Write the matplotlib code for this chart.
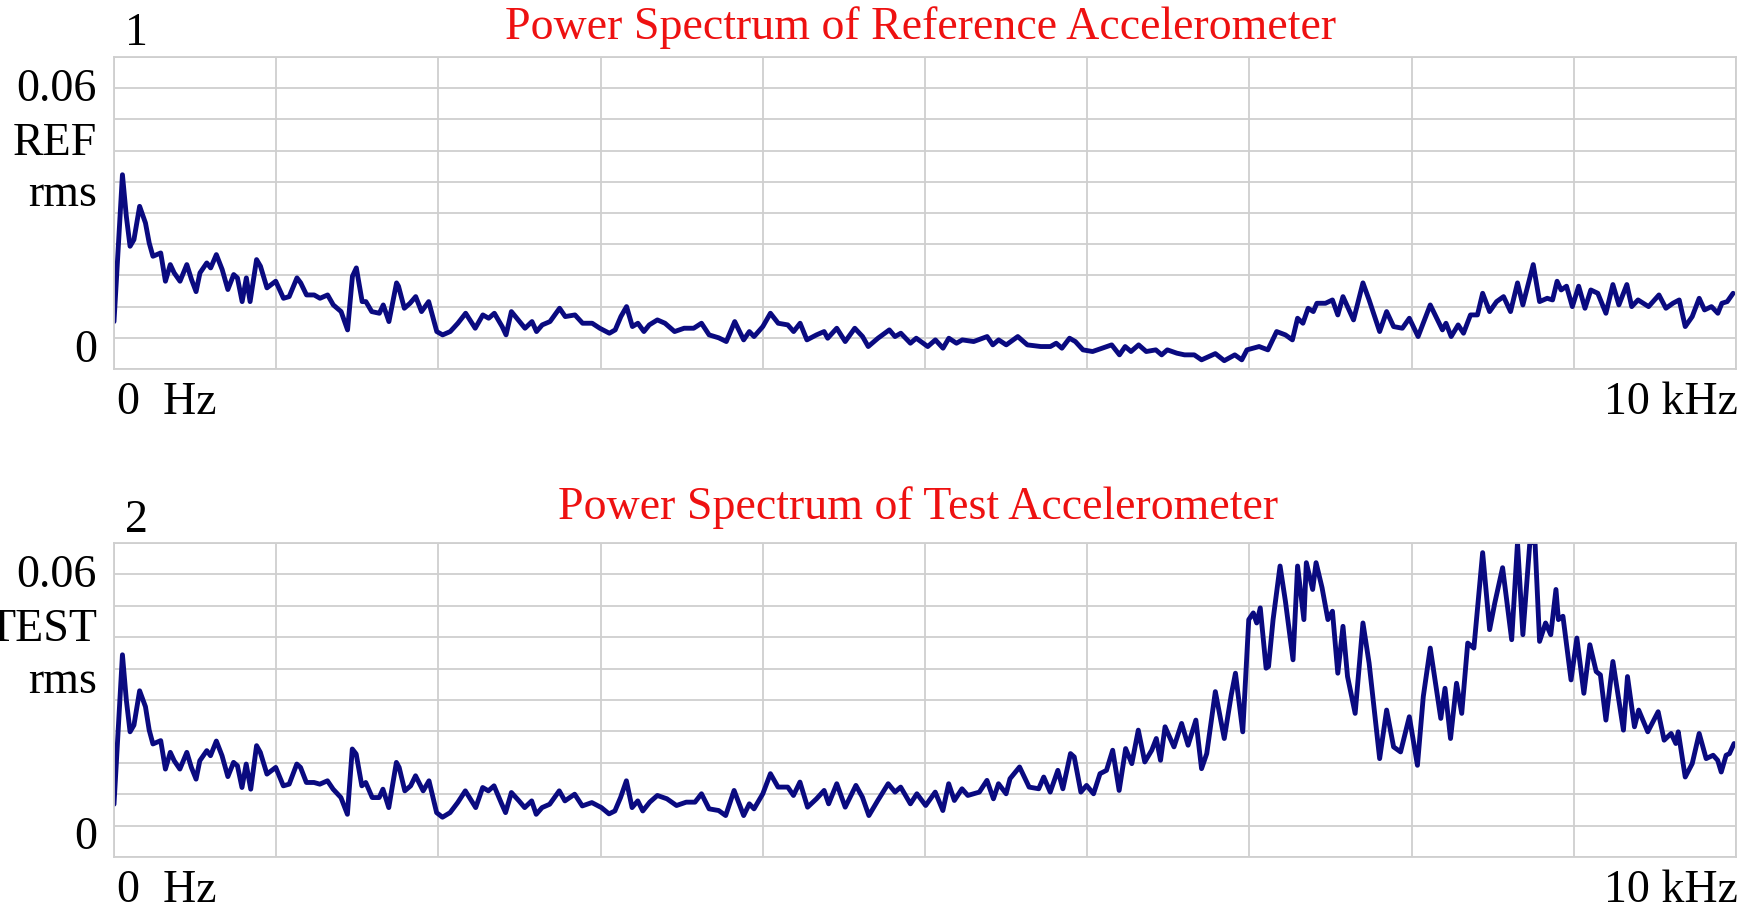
import numpy as np
import matplotlib
matplotlib.use("Agg")
import matplotlib.pyplot as plt
from matplotlib.transforms import blended_transform_factory

# frequency (kHz) and rms level
ref_khz = [
    0, 0.052, 0.076, 0.099, 0.123, 0.158, 0.194, 0.217, 0.24, 0.288,
    0.317, 0.347, 0.371, 0.407, 0.449, 0.478, 0.506, 0.53, 0.572, 0.596,
    0.631, 0.667, 0.702, 0.738, 0.761, 0.79, 0.816, 0.839, 0.879, 0.903,
    0.943, 0.997, 1.045, 1.08, 1.128, 1.151, 1.187, 1.234, 1.27, 1.317,
    1.352, 1.4, 1.44, 1.47, 1.494, 1.53, 1.553, 1.589, 1.636, 1.66,
    1.695, 1.742, 1.754, 1.79, 1.825, 1.86, 1.896, 1.94, 1.99, 2.026,
    2.073, 2.12, 2.168, 2.227, 2.274, 2.31, 2.345, 2.393, 2.417, 2.45,
    2.5, 2.534, 2.577, 2.605, 2.64, 2.688, 2.747, 2.782, 2.842, 2.889,
    2.948, 2.995, 3.054, 3.09, 3.125, 3.16, 3.196, 3.23, 3.267,
    3.30, 3.35, 3.397, 3.456, 3.515, 3.574, 3.622, 3.669, 3.728, 3.775,
    3.827, 3.882, 3.917, 3.946, 4.0, 4.047, 4.095, 4.154, 4.19, 4.23,
    4.272, 4.331, 4.378, 4.4, 4.456, 4.508, 4.567, 4.615, 4.65, 4.71,
    4.78, 4.815, 4.851, 4.91, 4.946, 5.017, 5.064, 5.111, 5.147, 5.194,
    5.23, 5.3, 5.383, 5.418, 5.454, 5.501, 5.572, 5.631, 5.714, 5.773,
    5.809, 5.844, 5.891, 5.927, 5.974, 6.033, 6.092, 6.151, 6.199, 6.234,
    6.27, 6.317, 6.364, 6.423, 6.459, 6.494, 6.553, 6.6, 6.66,
    6.705, 6.79, 6.845, 6.91, 6.953, 6.985, 7.06, 7.114, 7.168, 7.222,
    7.265, 7.297, 7.33, 7.362, 7.394, 7.416, 7.469, 7.512, 7.545, 7.577,
    7.642, 7.7, 7.738, 7.803, 7.846, 7.889, 7.943, 7.986, 8.04, 8.115,
    8.19, 8.212, 8.244, 8.287, 8.32, 8.363, 8.406, 8.438, 8.481, 8.524,
    8.567, 8.61, 8.653, 8.686, 8.75, 8.789, 8.836, 8.869, 8.897, 8.922,
    8.955, 8.991, 9.03, 9.069, 9.105, 9.148, 9.198, 9.241, 9.278, 9.327,
    9.357, 9.396, 9.461, 9.525, 9.568, 9.611, 9.65, 9.687, 9.73, 9.773,
    9.806, 9.849, 9.888, 9.913, 9.946, 9.982,
]
ref_rms = [
    0.0039, 0.0392, 0.0292, 0.0220, 0.0236, 0.0316, 0.0276, 0.0228, 0.0196, 0.0204,
    0.0136, 0.0176, 0.0156, 0.0136, 0.0176, 0.0140, 0.0111, 0.0156, 0.0180, 0.0168,
    0.0200, 0.0164, 0.0116, 0.0152, 0.0144, 0.0087, 0.0144, 0.0087, 0.0188, 0.0172,
    0.0120, 0.0136, 0.0095, 0.0099, 0.0144, 0.0132, 0.0103, 0.0103, 0.0095, 0.0103,
    0.0079, 0.0063, 0.0019, 0.0148, 0.0168, 0.0087, 0.0087, 0.0063, 0.0059, 0.0079,
    0.0039, 0.0132, 0.0124, 0.0071, 0.0083, 0.0099, 0.0063, 0.0087, 0.0015, 0.0007,
    0.0015, 0.0035, 0.0059, 0.0023, 0.0055, 0.0047, 0.0059, 0.0027, 0.0007, 0.0063,
    0.0039, 0.0023, 0.0039, 0.0015, 0.0031, 0.0039, 0.0071, 0.0051, 0.0055, 0.0035,
    0.0035, 0.0023, 0.0011, 0.0019, 0.0051, 0.0075, 0.0027, 0.0035, 0.0015,
    0.0031, 0.0043, 0.0035, 0.0015, 0.0023, 0.0023, 0.0035, 0.0007, 0.0000, -0.0009,
    0.0039, -0.0005, 0.0015, 0.0003, 0.0027, 0.0059, 0.0035, 0.0031, 0.0015, 0.0035,
    -0.0005, 0.0007, 0.0015, -0.0001, 0.0023, -0.0009, 0.0023, 0.0003, -0.0021, -0.0001,
    0.0019, 0.0003, 0.0011, -0.0013, -0.0001, -0.0021, -0.0005, -0.0025, -0.0001, -0.0013,
    -0.0005, -0.0009, 0.0003, -0.0017, -0.0005, -0.0017, 0.0003, -0.0017, -0.0021, -0.0021,
    -0.0013, -0.0025, -0.0001, -0.0009, -0.0029, -0.0033, -0.0025, -0.0017, -0.0041, -0.0021,
    -0.0033, -0.0017, -0.0033, -0.0029, -0.0041, -0.0029, -0.0037, -0.0041, -0.0041,
    -0.0053, -0.0038, -0.0055, -0.0041, -0.0053, -0.0029, -0.0021, -0.0029, 0.0015, 0.0007,
    -0.0005, 0.0047, 0.0035, 0.0071, 0.0063, 0.0083, 0.0083, 0.0091, 0.0055, 0.0099,
    0.0043, 0.0132, 0.0091, 0.0015, 0.0063, 0.0027, 0.0023, 0.0047, 0.0003, 0.0079,
    0.0019, 0.0035, 0.0003, 0.0031, 0.0011, 0.0055, 0.0055, 0.0107, 0.0063, 0.0087,
    0.0099, 0.0063, 0.0132, 0.0079, 0.0176, 0.0087, 0.0095, 0.0091, 0.0136, 0.0115,
    0.0124, 0.0075, 0.0124, 0.0071, 0.0115, 0.0107, 0.0059, 0.0128, 0.0079, 0.0128,
    0.0075, 0.0091, 0.0075, 0.0103, 0.0071, 0.0083, 0.0091, 0.0027, 0.0051, 0.0095,
    0.0067, 0.0075, 0.0059, 0.0083, 0.0087, 0.0107,
]

test_khz = [
    0, 0.052, 0.076, 0.099, 0.123, 0.158, 0.194, 0.217, 0.24, 0.288,
    0.317, 0.347, 0.371, 0.406, 0.449, 0.477, 0.506, 0.529, 0.572, 0.595,
    0.631, 0.666, 0.702, 0.737, 0.761, 0.789, 0.815, 0.843, 0.879, 0.902,
    0.943, 0.997, 1.044, 1.08, 1.127, 1.15, 1.186, 1.233, 1.269, 1.316,
    1.351, 1.399, 1.439, 1.469, 1.493, 1.528, 1.552, 1.592, 1.635, 1.658,
    1.694, 1.741, 1.758, 1.793, 1.829, 1.859, 1.906, 1.942, 1.989, 2.025,
    2.072, 2.119, 2.166, 2.23, 2.273, 2.308, 2.343, 2.391, 2.414, 2.45,
    2.497, 2.532, 2.575, 2.603, 2.639, 2.686, 2.745, 2.78, 2.84, 2.887,
    2.946, 3.005, 3.052, 3.088, 3.123, 3.159, 3.194, 3.229, 3.26,
    3.303, 3.35, 3.409, 3.468, 3.528, 3.582, 3.622, 3.669, 3.728, 3.771,
    3.823, 3.882, 3.917, 3.946, 4.0, 4.047, 4.094, 4.154, 4.189, 4.229,
    4.276, 4.331, 4.378, 4.406, 4.456, 4.508, 4.574, 4.614, 4.654, 4.709,
    4.773, 4.815, 4.85, 4.91, 4.95, 5.004, 5.063, 5.11, 5.146, 5.181,
    5.228, 5.264, 5.335, 5.382, 5.422, 5.453, 5.5, 5.524, 5.583, 5.642,
    5.701, 5.732, 5.772, 5.819, 5.85, 5.897, 5.92, 5.961, 5.996, 6.039,
    6.079, 6.119, 6.157, 6.197, 6.237, 6.275, 6.315, 6.355, 6.398, 6.426,
    6.452, 6.48, 6.535, 6.582, 6.622, 6.67,
    6.705, 6.737, 6.79, 6.845, 6.888, 6.914, 6.959, 6.996, 7.024, 7.045,
    7.067, 7.103, 7.118, 7.146, 7.189, 7.222, 7.269, 7.297, 7.336, 7.351,
    7.39, 7.411, 7.448, 7.484, 7.512, 7.545, 7.577, 7.605, 7.652, 7.7,
    7.738, 7.803, 7.846, 7.889, 7.932, 7.986, 8.036, 8.072, 8.115, 8.18,
    8.206, 8.24, 8.277, 8.309, 8.346, 8.384, 8.438, 8.481, 8.513, 8.561,
    8.617, 8.653, 8.686, 8.729, 8.761, 8.789, 8.826, 8.858, 8.89, 8.905,
    8.933, 8.983, 9.019, 9.062, 9.099, 9.138, 9.164, 9.198, 9.241, 9.306,
    9.331, 9.374, 9.4, 9.456, 9.52, 9.557, 9.6, 9.629, 9.644, 9.687,
    9.73, 9.773, 9.816, 9.859, 9.887, 9.909, 9.939, 9.96, 9.988,
]
test_rms = [
    0.0051, 0.0408, 0.0300, 0.0224, 0.0240, 0.0322, 0.0284, 0.0228, 0.0195, 0.0203,
    0.0135, 0.0175, 0.0155, 0.0135, 0.0175, 0.0139, 0.0111, 0.0155, 0.0179, 0.0167,
    0.0202, 0.0167, 0.0117, 0.0151, 0.0143, 0.0091, 0.0147, 0.0087, 0.0191, 0.0175,
    0.0123, 0.0139, 0.0095, 0.0099, 0.0147, 0.0139, 0.0103, 0.0103, 0.0099, 0.0107,
    0.0087, 0.0067, 0.0027, 0.0183, 0.0171, 0.0095, 0.0103, 0.0067, 0.0067, 0.0087,
    0.0043, 0.0151, 0.0139, 0.0083, 0.0095, 0.0119, 0.0083, 0.0107, 0.0031, 0.0020,
    0.0031, 0.0055, 0.0083, 0.0043, 0.0091, 0.0083, 0.0095, 0.0051, 0.0031, 0.0079,
    0.0059, 0.0043, 0.0059, 0.0027, 0.0043, 0.0051, 0.0083, 0.0059, 0.0075, 0.0047,
    0.0055, 0.0043, 0.0028, 0.0035, 0.0067, 0.0107, 0.0043, 0.0059, 0.0035,
    0.0056, 0.0072, 0.0064, 0.0048, 0.0056, 0.0056, 0.0076, 0.0040, 0.0036, 0.0024,
    0.0084, 0.0024, 0.0052, 0.0040, 0.0076, 0.0124, 0.0092, 0.0092, 0.0072, 0.0104,
    0.0044, 0.0064, 0.0084, 0.0052, 0.0100, 0.0044, 0.0096, 0.0068, 0.0024, 0.0060,
    0.0100, 0.0080, 0.0092, 0.0052, 0.0076, 0.0048, 0.0080, 0.0036, 0.0100, 0.0060,
    0.0088, 0.0072, 0.0080, 0.0108, 0.0064, 0.0100, 0.0076, 0.0112, 0.0140, 0.0092,
    0.0088, 0.0116, 0.0080, 0.0132, 0.0088, 0.0172, 0.0164, 0.0080, 0.0096, 0.0076,
    0.0124, 0.0132, 0.0180, 0.0084, 0.0184, 0.0148, 0.0228, 0.0152, 0.0180, 0.0208,
    0.0156, 0.0236, 0.0188, 0.0244, 0.0192, 0.0252,
    0.0136, 0.0172, 0.0320, 0.0208, 0.0312, 0.0364, 0.0224, 0.0492, 0.0508, 0.0484,
    0.0520, 0.0376, 0.0380, 0.0492, 0.0620, 0.0536, 0.0396, 0.0620, 0.0492, 0.0628,
    0.0564, 0.0628, 0.0568, 0.0492, 0.0512, 0.0364, 0.0476, 0.0356, 0.0268, 0.0484,
    0.0388, 0.0160, 0.0276, 0.0188, 0.0176, 0.0260, 0.0144, 0.0308, 0.0424, 0.0256,
    0.0328, 0.0208, 0.0340, 0.0268, 0.0436, 0.0424, 0.0652, 0.0468, 0.0532, 0.0616,
    0.0444, 0.0676, 0.0456, 0.0676, 0.0676, 0.0440, 0.0484, 0.0456, 0.0564, 0.0492,
    0.0500, 0.0348, 0.0448, 0.0316, 0.0432, 0.0368, 0.0360, 0.0252, 0.0392, 0.0228,
    0.0356, 0.0236, 0.0276, 0.0224, 0.0272, 0.0204, 0.0220, 0.0196, 0.0224, 0.0116,
    0.0148, 0.0220, 0.0160, 0.0168, 0.0156, 0.0128, 0.0168, 0.0172, 0.0196,
]

panel_titles = ["Power Spectrum of Reference Accelerometer",
                "Power Spectrum of Test Accelerometer"]
channel_names = ["REF", "TEST"]
channel_numbers = ["1", "2"]

W, H = 1750, 909
NAVY = "#0a0a80"
GRID = "#cfcfcf"
FONT = "Liberation Serif"
FS = 33


def px(x, y):
    # pixel position in the picture -> figure fraction
    return x / W, 1 - y / H


def draw_panel(fig, rect, khz, rms, name):
    ax = fig.add_axes(rect)
    ax.plot(khz, rms, color=NAVY, lw=3.5, solid_joinstyle="round",
            solid_capstyle="round")
    ax.set_xlim(0, 10)
    ax.set_ylim(-0.0075, 0.0675)
    ax.set_xticks(np.arange(0, 11, 1))
    ax.set_yticks(np.linspace(-0.0075, 0.0675, 11))
    ax.grid(True, color=GRID, lw=1.3)
    ax.set_axisbelow(True)
    ax.tick_params(length=0, labelbottom=False, labelleft=False)
    for s in ax.spines.values():
        s.set_color(GRID)
        s.set_linewidth(1.3)

    tr = blended_transform_factory(ax.transAxes, ax.transData)
    kw = dict(transform=tr, ha="right", va="center", fontsize=FS, family=FONT)
    ax.text(-0.0105, 0.0597, "0.06", **kw)
    ax.text(-0.0105, 0.0467, name, **kw)
    ax.text(-0.0105, 0.0343, "rms", **kw)
    ax.text(-0.0105, -0.0030, "0", **kw)

    ax.text(0.002, -0.108, "0  Hz", transform=ax.transAxes, ha="left",
            va="center", fontsize=FS, family=FONT)
    ax.text(1.001, -0.108, "10 kHz", transform=ax.transAxes, ha="right",
            va="center", fontsize=FS, family=FONT)
    return ax


def main():
    fig = plt.figure(figsize=(W / 100, H / 100), dpi=100)

    rects = [[114 / W, 1 - 369 / H, 1622 / W, 312 / H],
             [114 / W, 1 - 857 / H, 1622 / W, 314 / H]]
    series = [(ref_khz, ref_rms), (test_khz, test_rms)]
    title_pos = [px(921, 28), px(918, 508)]
    num_pos = [px(136, 34), px(136, 521)]

    for i in range(2):
        draw_panel(fig, rects[i], series[i][0], series[i][1], channel_names[i])
        fig.text(*title_pos[i], panel_titles[i], color="#ee1111", fontsize=FS,
                 family=FONT, ha="center", va="center")
        fig.text(*num_pos[i], channel_numbers[i], fontsize=FS, family=FONT,
                 ha="center", va="center")

    fig.savefig("out.png", dpi=100)


if __name__ == "__main__":
    main()
